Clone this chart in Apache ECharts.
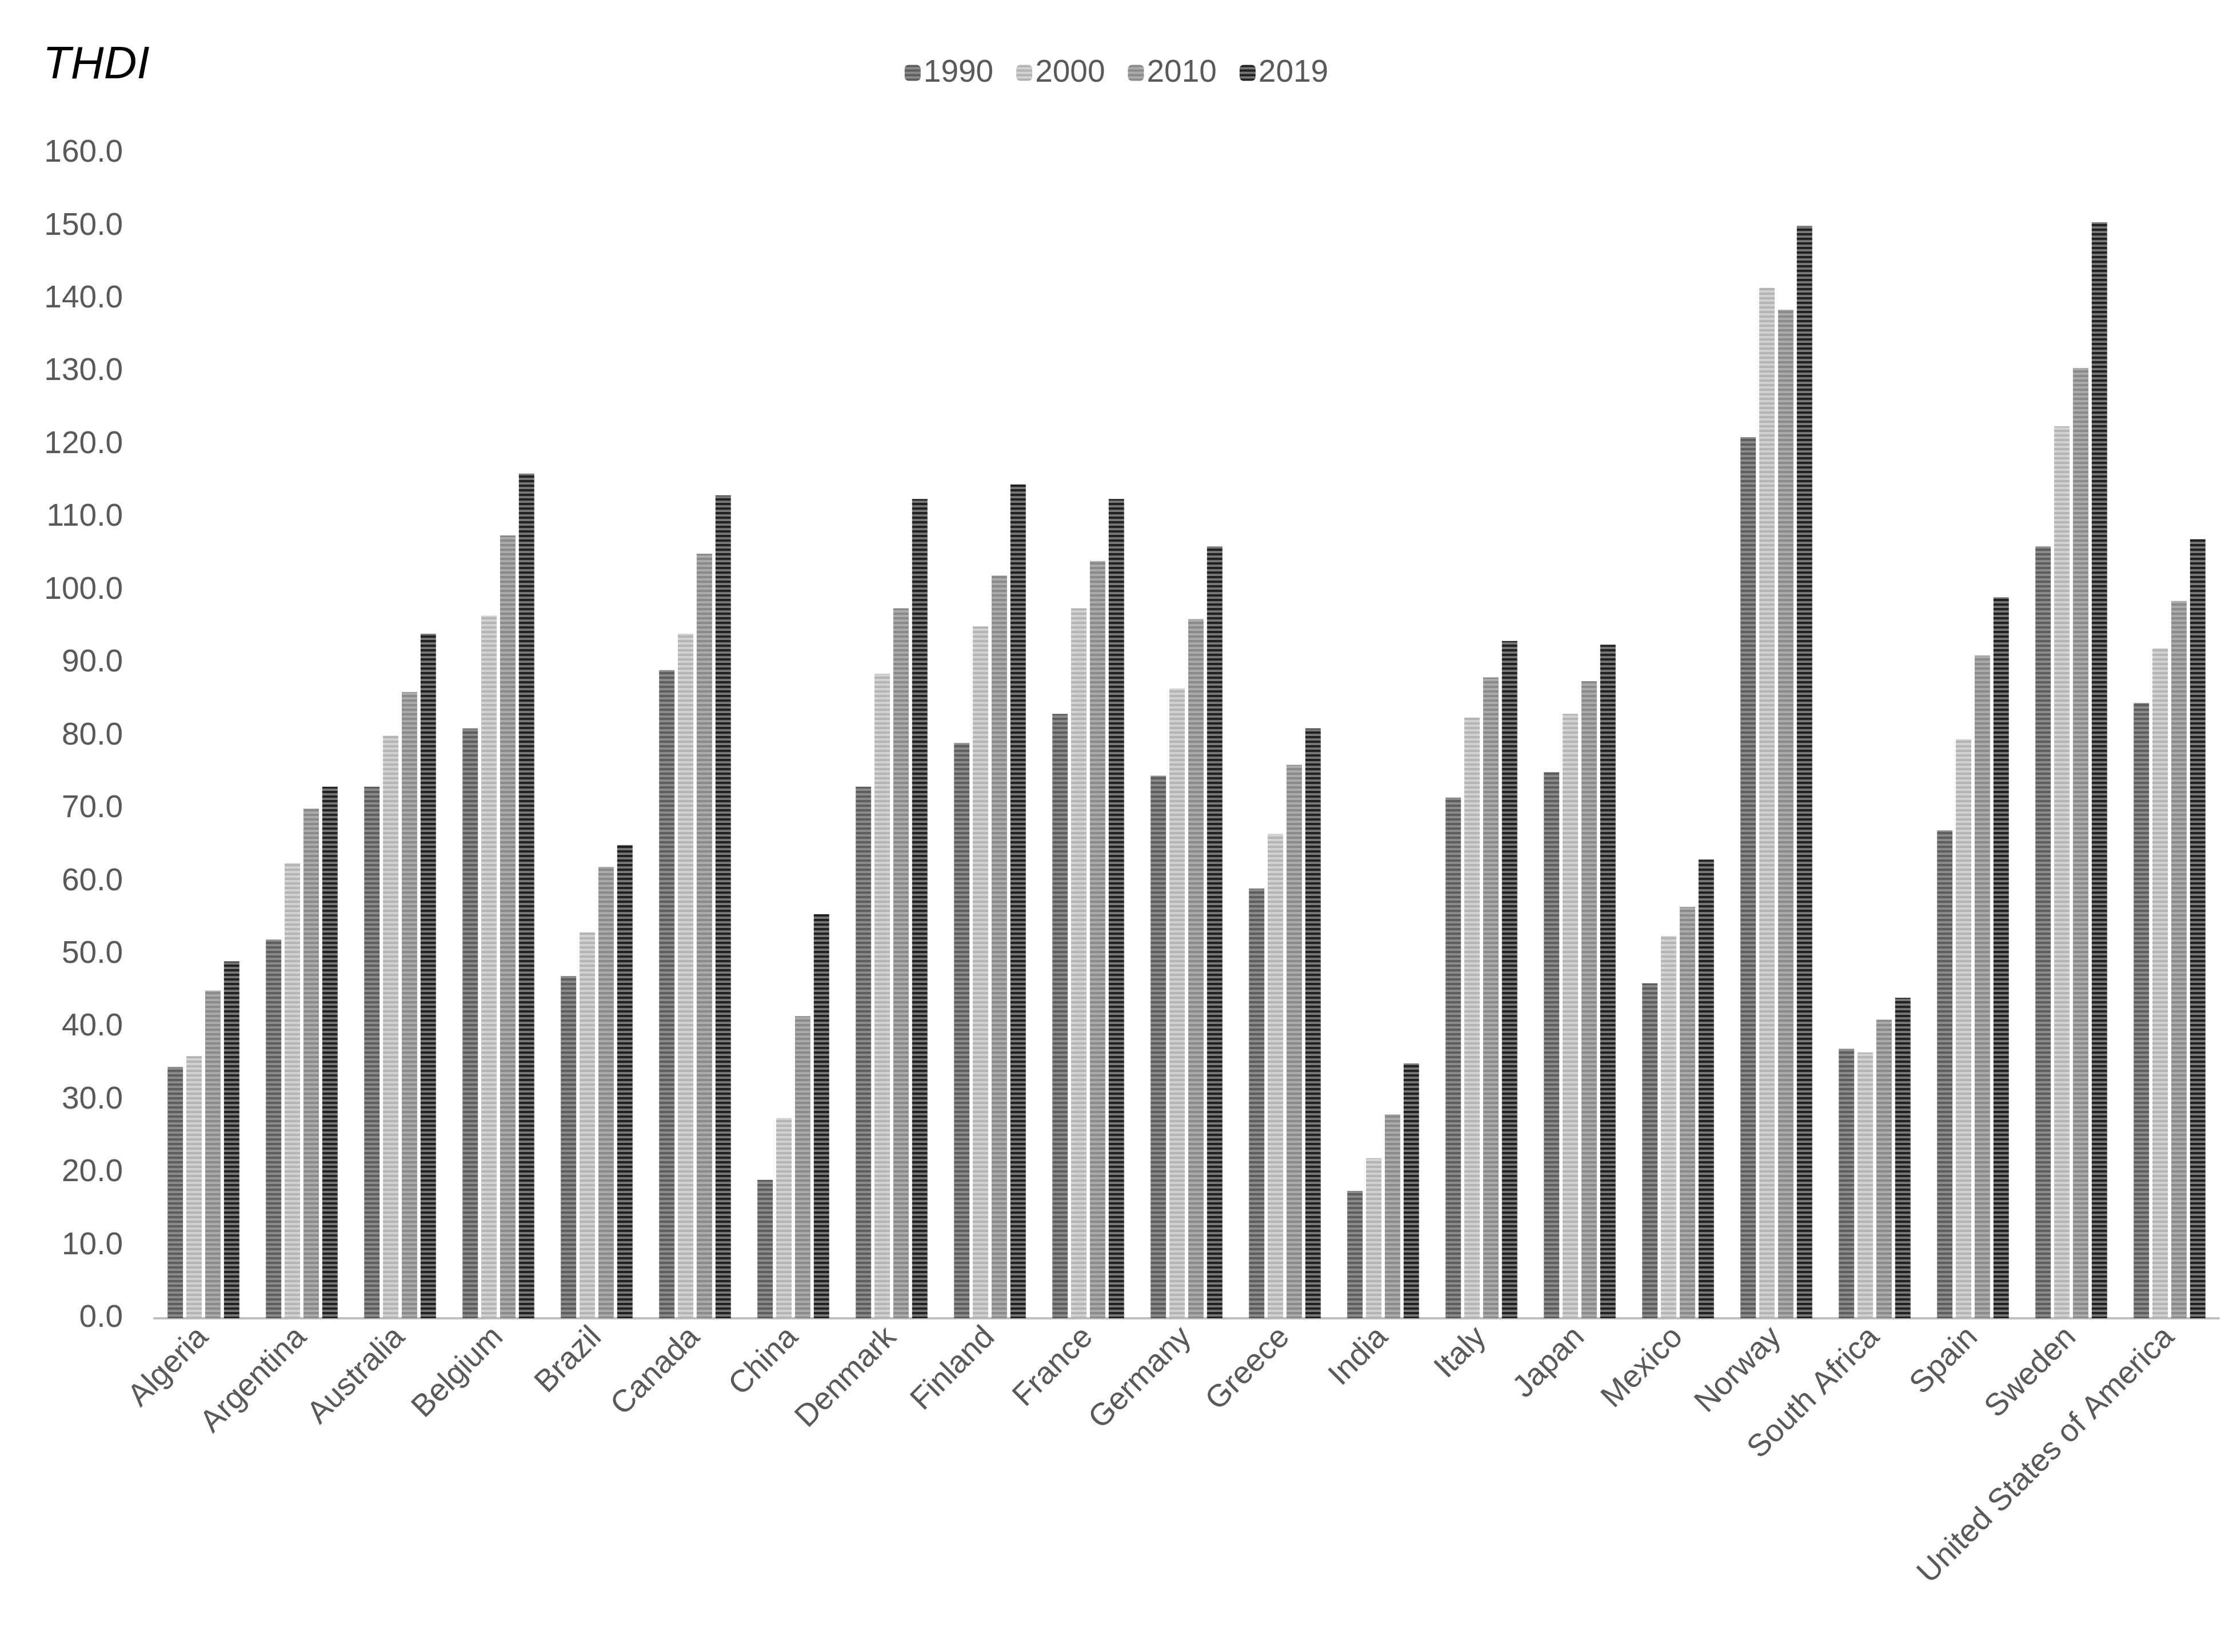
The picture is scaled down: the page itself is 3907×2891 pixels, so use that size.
<!DOCTYPE html>
<html><head><meta charset="utf-8">
<script src="https://cdn.jsdelivr.net/npm/echarts@6/dist/echarts.min.js"></script>
<style>html,body{margin:0;padding:0;background:#fff}#c{width:3907px;height:2891px}</style>
</head><body><div id="c"></div>
<script>
const categories = ["Algeria","Argentina","Australia","Belgium","Brazil","Canada","China","Denmark","Finland","France","Germany","Greece","India","Italy","Japan","Mexico","Norway","South Africa","Spain","Sweden","United States of America"];
const seriesNames = ["1990","2000","2010","2019"];
const v1990 = [34.5,52,73,81,47,89,19,73,79,83,74.5,59,17.5,71.5,75,46,121,37,67,106,84.5];
const v2000 = [36,62.5,80,96.5,53,94,27.5,88.5,95,97.5,86.5,66.5,22,82.5,83,52.5,141.5,36.5,79.5,122.5,92];
const v2010 = [45,70,86,107.5,62,105,41.5,97.5,102,104,96,76,28,88,87.5,56.5,138.5,41,91,130.5,98.5];
const v2019 = [49,73,94,116,65,113,55.5,112.5,114.5,112.5,106,81,35,93,92.5,63,150,44,99,150.5,107];
const yTicks = {min:0,max:160,interval:10};

function stripe(a,b){
  const c=document.createElement('canvas');c.width=8;c.height=8;
  const x=c.getContext('2d');x.fillStyle=a;x.fillRect(0,0,8,4);x.fillStyle=b;x.fillRect(0,4,8,4);
  return {image:c,repeat:'repeat'};
}
const fills=[stripe('#5e5e5e','#8a8a8a'),stripe('#b3b3b3','#d2d2d2'),stripe('#8a8a8a','#ababab'),stripe('#222222','#777777')];
const data=[v1990,v2000,v2010,v2019];
const font='Liberation Sans';
const chart=echarts.init(document.getElementById('c'));
chart.setOption({
  animation:false,
  textStyle:{fontFamily:font},
  title:{text:'THDI',left:70,top:70,textStyle:{fontStyle:'italic',fontWeight:'normal',fontSize:80,color:'#000',fontFamily:font}},
  legend:{top:95,left:'center',itemWidth:28,itemHeight:28,itemGap:40,textStyle:{fontSize:55,color:'#595959',fontFamily:font},data:seriesNames},
  grid:{left:270,right:25,top:268,bottom:584,containLabel:false},
  xAxis:{type:'category',data:categories,axisLine:{lineStyle:{color:'#bfbfbf',width:4}},axisTick:{show:false},
    axisLabel:{rotate:45,fontSize:55,color:'#595959',interval:0,margin:25}},
  yAxis:{type:'value',min:yTicks.min,max:yTicks.max,interval:yTicks.interval,splitLine:{show:false},axisLine:{show:false},axisTick:{show:false},
    axisLabel:{fontSize:55,color:'#595959',margin:55,formatter:v=>v.toFixed(1)}},
  series:seriesNames.map((n,i)=>({name:n,type:'bar',data:data[i],barGap:'22%',barCategoryGap:'27%',itemStyle:{color:fills[i]}}))
});
</script></body></html>
